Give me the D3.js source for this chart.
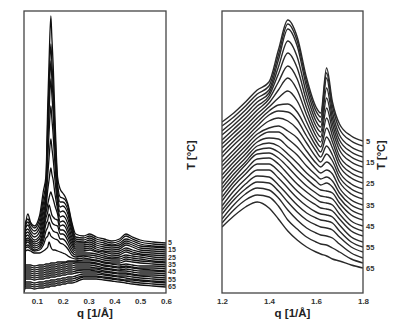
<!DOCTYPE html>
<html>
<head>
<meta charset="utf-8">
<script src="https://cdn.jsdelivr.net/npm/d3@7"></script>
<style>
  body { margin: 0; background: #fff; }
  svg { display: block; }
</style>
</head>
<body>
<svg id="chart" width="397" height="328"></svg>
<script>
// Temperatures of the heating series (°C), one curve each, top to bottom
const temps = [5, 7.5, 10, 12.5, 15, 17.5, 20, 22.5, 25, 27.5, 30, 32.5, 35,
               37.5, 40, 42.5, 45, 47.5, 50, 52.5, 55, 57.5, 60, 62.5, 65];
const tempLabels = [5, 15, 25, 35, 45, 55, 65];

// Small-angle region: scattering vector grid (1/Å)
const qSaxs = [0.05, 0.056, 0.065, 0.075, 0.09, 0.11, 0.125, 0.135, 0.142, 0.147,
               0.154, 0.158, 0.163, 0.17, 0.18, 0.19, 0.2, 0.21, 0.22, 0.235,
               0.25, 0.28, 0.305, 0.33, 0.36, 0.39, 0.42, 0.445, 0.47, 0.5, 0.55, 0.6];

// Stacked SAXS intensities (arb. units), one row per temperature
const saxsI = [
  [1, 67, 79, 71, 67, 77, 102, 117, 188, 231, 277, 255, 228, 175, 116, 104, 100, 96, 89, 71, 59, 57, 59, 56, 54, 52, 54, 59, 56, 53, 51, 50],
  [1, 71, 74, 69, 65, 73, 95, 111, 172, 209, 249, 230, 206, 161, 110, 96, 95, 93, 87, 69, 56, 55, 57, 54, 52, 50, 52, 57, 54, 51, 49, 48],
  [1, 68, 71, 66, 62, 69, 89, 105, 161, 195, 232, 214, 193, 151, 104, 91, 91, 89, 83, 66, 54, 53, 55, 52, 50, 48, 50, 54, 52, 49, 47, 46],
  [1, 65, 68, 63, 59, 65, 84, 100, 150, 181, 214, 198, 179, 141, 99, 86, 87, 85, 79, 63, 52, 51, 53, 50, 48, 47, 48, 52, 50, 47, 46, 45],
  [1, 62, 64, 60, 56, 61, 79, 95, 135, 160, 187, 174, 158, 128, 94, 81, 82, 80, 74, 60, 50, 50, 51, 48, 46, 45, 46, 50, 48, 45, 44, 43],
  [1, 59, 61, 57, 53, 57, 74, 90, 118, 135, 154, 145, 134, 113, 89, 76, 77, 75, 69, 56, 48, 48, 49, 46, 44, 43, 44, 48, 46, 43, 42, 41],
  [1, 56, 58, 54, 51, 54, 69, 85, 103, 113, 125, 119, 113, 99, 84, 71, 72, 70, 64, 53, 46, 46, 47, 44, 42, 41, 42, 45, 43, 41, 40, 39],
  [1, 53, 55, 52, 49, 51, 64, 80, 89, 95, 101, 98, 94, 87, 79, 67, 68, 66, 60, 50, 44, 44, 45, 42, 41, 39, 40, 43, 41, 39, 38, 37],
  [1, 51, 53, 50, 47, 49, 60, 75, 81, 88, 82, 78, 76, 74, 73, 63, 63, 61, 56, 47, 42, 42, 43, 41, 39, 37, 38, 41, 39, 38, 36, 35],
  [1, 49, 51, 48, 45, 47, 56, 69, 73, 79, 74, 71, 69, 68, 67, 59, 59, 57, 52, 44, 40, 40, 40, 39, 37, 35, 36, 38, 37, 36, 34, 33],
  [1, 47, 48, 46, 43, 45, 52, 62, 66, 71, 66, 64, 62, 61, 60, 54, 54, 52, 48, 41, 38, 38, 38, 37, 35, 34, 34, 36, 35, 34, 32, 31],
  [1, 45, 46, 44, 42, 43, 48, 55, 57, 61, 57, 56, 55, 54, 53, 50, 49, 47, 44, 38, 36, 37, 36, 35, 33, 32, 32, 34, 33, 32, 31, 30],
  [1, 42, 43, 42, 40, 40, 42, 44, 46, 51, 46, 44, 43, 43, 42, 41, 40, 39, 37, 35, 34, 35, 34, 33, 31, 30, 30, 32, 31, 30, 29, 28],
  [1, 28, 28, 28, 27, 28, 28, 29, 29, 29, 30, 30, 30, 30, 31, 31, 31, 31, 32, 32, 32, 33, 33, 32, 30, 29, 28, 29, 28, 27, 27, 26],
  [1, 26, 26, 26, 25, 26, 26, 27, 27, 27, 28, 28, 28, 28, 29, 29, 30, 30, 31, 31, 31, 31, 31, 30, 28, 27, 26, 27, 26, 25, 25, 24],
  [1, 24, 24, 24, 23, 24, 24, 25, 25, 25, 26, 26, 26, 26, 27, 27, 28, 28, 29, 29, 30, 30, 30, 29, 27, 26, 25, 26, 25, 24, 23, 22],
  [1, 22, 22, 22, 21, 22, 22, 23, 23, 23, 24, 24, 24, 24, 25, 25, 26, 26, 27, 27, 28, 28, 28, 27, 25, 24, 23, 24, 23, 22, 22, 21],
  [1, 20, 20, 20, 19, 20, 20, 21, 21, 21, 22, 22, 22, 22, 23, 23, 24, 24, 25, 25, 26, 26, 26, 25, 24, 23, 22, 22, 21, 20, 20, 19],
  [1, 18, 18, 18, 17, 18, 18, 19, 19, 19, 20, 20, 20, 20, 21, 21, 22, 22, 23, 23, 24, 24, 24, 24, 22, 21, 20, 20, 19, 18, 18, 17],
  [1, 16, 16, 16, 15, 16, 16, 17, 17, 17, 18, 18, 18, 18, 19, 19, 20, 20, 21, 21, 22, 23, 23, 22, 21, 20, 19, 19, 18, 17, 16, 15],
  [1, 14, 14, 14, 13, 14, 14, 15, 15, 15, 16, 16, 16, 16, 17, 17, 18, 18, 19, 19, 20, 21, 21, 21, 19, 18, 17, 17, 16, 15, 14, 13],
  [1, 11, 11, 11, 10, 11, 11, 12, 12, 12, 13, 13, 13, 13, 14, 14, 15, 15, 16, 16, 17, 19, 19, 19, 18, 17, 16, 15, 14, 13, 12, 11],
  [1, 9, 9, 9, 8, 9, 9, 10, 10, 10, 11, 11, 11, 11, 12, 12, 13, 13, 14, 14, 15, 17, 17, 17, 16, 15, 14, 13, 13, 12, 11, 10],
  [1, 7, 7, 7, 6, 7, 7, 8, 8, 8, 9, 9, 9, 9, 10, 10, 11, 11, 12, 12, 13, 16, 16, 16, 15, 14, 13, 12, 11, 10, 9, 8],
  [1, 5, 5, 5, 4, 5, 5, 6, 6, 6, 7, 7, 7, 7, 8, 8, 9, 9, 10, 10, 11, 14, 14, 14, 13, 12, 11, 10, 9, 8, 7, 6]
];

// Wide-angle region: scattering vector grid (1/Å)
const qWaxs = [1.2, 1.25, 1.3, 1.35, 1.4, 1.44, 1.48, 1.52, 1.56, 1.6, 1.62, 1.645, 1.67, 1.7, 1.75, 1.8];

// Stacked WAXS intensities (arb. units), one row per temperature
const waxsI = [
  [171, 180, 191, 203, 211, 243, 273, 256, 215, 186, 180, 225, 191, 169, 157, 152],
  [167, 176, 187, 199, 207, 238, 269, 252, 211, 182, 176, 220, 187, 164, 152, 147],
  [162, 172, 183, 195, 203, 233, 264, 247, 206, 177, 171, 215, 181, 158, 146, 141],
  [158, 168, 179, 191, 200, 226, 252, 236, 199, 172, 166, 205, 175, 153, 141, 136],
  [153, 164, 175, 187, 197, 219, 240, 225, 192, 167, 161, 195, 169, 148, 136, 131],
  [149, 160, 171, 183, 194, 211, 227, 214, 185, 162, 156, 185, 163, 143, 131, 126],
  [145, 156, 167, 179, 190, 203, 215, 203, 178, 157, 151, 175, 157, 137, 125, 120],
  [140, 152, 163, 175, 186, 195, 202, 192, 171, 152, 146, 165, 151, 132, 120, 115],
  [136, 148, 159, 171, 182, 188, 189, 181, 164, 147, 141, 156, 145, 127, 115, 110],
  [131, 143, 155, 167, 178, 182, 181, 173, 157, 142, 136, 147, 138, 121, 109, 104],
  [127, 139, 151, 163, 172, 175, 172, 164, 150, 136, 131, 139, 132, 116, 104, 99],
  [123, 135, 147, 159, 165, 167, 162, 155, 142, 130, 126, 131, 126, 111, 99, 94],
  [118, 131, 143, 155, 161, 161, 154, 146, 135, 124, 120, 123, 119, 105, 93, 88],
  [114, 127, 139, 151, 155, 154, 146, 138, 127, 118, 114, 116, 112, 100, 88, 83],
  [109, 123, 135, 147, 150, 147, 139, 130, 120, 112, 108, 110, 106, 95, 83, 78],
  [105, 119, 131, 143, 145, 141, 133, 123, 114, 106, 103, 102, 100, 90, 78, 73],
  [101, 115, 128, 139, 140, 135, 126, 116, 107, 100, 97, 96, 94, 85, 72, 67],
  [96, 111, 123, 134, 135, 129, 119, 109, 101, 94, 91, 90, 88, 79, 67, 62],
  [92, 107, 119, 129, 129, 122, 112, 102, 94, 88, 85, 84, 82, 74, 62, 57],
  [87, 102, 114, 123, 123, 115, 105, 95, 87, 81, 79, 78, 76, 68, 56, 51],
  [83, 97, 109, 117, 116, 108, 98, 88, 80, 75, 73, 72, 70, 62, 51, 46],
  [79, 93, 104, 111, 110, 102, 91, 81, 73, 68, 66, 65, 63, 56, 46, 41],
  [74, 88, 99, 105, 103, 95, 83, 73, 65, 60, 58, 57, 55, 49, 40, 35],
  [70, 83, 93, 98, 96, 87, 73, 64, 56, 51, 49, 48, 45, 41, 34, 30],
  [66, 77, 86, 91, 85, 74, 62, 53, 46, 41, 39, 37, 34, 32, 28, 25]
];

const saxsTicks = [0.1, 0.2, 0.3, 0.4, 0.5, 0.6];
const waxsTicks = [1.2, 1.4, 1.6, 1.8];

const svg = d3.select("#chart");
const plotTop = 11, plotBottom = 293;
const font = "'Liberation Sans', Arial, sans-serif";

const y = d3.scaleLinear().domain([0, 282]).range([plotBottom, plotTop]);

function panel(opts) {
  const { id, x0, x1, xDomain, q, rows, ticks, fmt, lineColor, lineWidth,
          labelSize, labelX, titleX } = opts;
  const x = d3.scaleLinear().domain(xDomain).range([x0, x1]);
  const g = svg.append("g");

  g.append("clipPath").attr("id", id)
    .append("rect").attr("x", x0).attr("y", plotTop)
    .attr("width", x1 - x0).attr("height", plotBottom - plotTop);

  const line = d3.line()
    .x((d, i) => x(q[i]))
    .y(d => y(d))
    .curve(d3.curveMonotoneX);

  g.append("g").attr("clip-path", `url(#${id})`)
    .selectAll("path").data(rows).join("path")
    .attr("d", line)
    .attr("fill", "none")
    .attr("stroke", lineColor)
    .attr("stroke-width", lineWidth)
    .attr("stroke-linejoin", "round");

  // frame
  g.append("rect")
    .attr("x", x0).attr("y", plotTop)
    .attr("width", x1 - x0).attr("height", plotBottom - plotTop)
    .attr("fill", "none").attr("stroke", "#444").attr("stroke-width", 1.3);

  // x axis labels (no tick marks)
  const ax = d3.axisBottom(x).tickValues(ticks).tickSize(0).tickPadding(5).tickFormat(fmt);
  const axG = g.append("g").attr("transform", `translate(0,${plotBottom})`).call(ax);
  axG.select(".domain").remove();
  axG.selectAll("text")
    .attr("font-family", font).attr("font-size", 8).attr("font-weight", "bold")
    .attr("fill", "#333");

  g.append("text")
    .attr("x", (x0 + x1) / 2).attr("y", 317)
    .attr("text-anchor", "middle")
    .attr("font-family", font).attr("font-size", 11.5).attr("font-weight", "bold")
    .attr("fill", "#222")
    .text("q [1/Å]");

  // temperature labels at the right end of their curves
  g.selectAll("text.tl").data(tempLabels).join("text")
    .attr("class", "tl")
    .attr("x", labelX)
    .attr("y", t => y(rows[temps.indexOf(t)][q.length - 1]))
    .attr("dy", "0.35em")
    .attr("font-family", font).attr("font-size", labelSize).attr("font-weight", "bold")
    .attr("fill", "#333")
    .text(t => t);

  g.append("text")
    .attr("transform", `translate(${titleX},155) rotate(-90)`)
    .attr("text-anchor", "middle")
    .attr("dy", "0.35em")
    .attr("font-family", font).attr("font-size", 11).attr("font-weight", "bold")
    .attr("fill", "#222")
    .text("T [°C]");
}

panel({
  id: "clipSaxs", x0: 24, x1: 166, xDomain: [0.05, 0.6], q: qSaxs, rows: saxsI,
  ticks: saxsTicks, fmt: d3.format(".1f"), lineColor: "#111", lineWidth: 1.3,
  labelSize: 7, labelX: 168, titleX: 191
});

panel({
  id: "clipWaxs", x0: 222, x1: 363, xDomain: [1.2, 1.8], q: qWaxs, rows: waxsI,
  ticks: waxsTicks, fmt: d3.format(".1f"), lineColor: "#2a2a2a", lineWidth: 1.4,
  labelSize: 7.5, labelX: 366, titleX: 381
});
</script>
</body>
</html>
